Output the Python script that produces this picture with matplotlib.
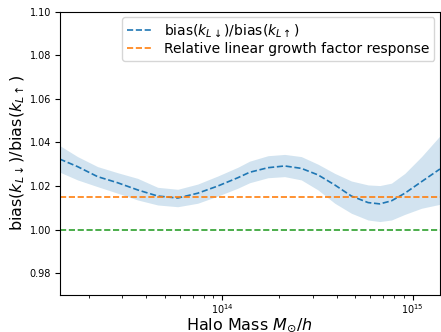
import matplotlib
matplotlib.use("Agg")
import matplotlib.pyplot as plt
import numpy as np

# Halo mass in units of 1e13 Msun/h
mass_1e13 = [1.402, 1.743, 2.221, 2.829, 3.605, 4.592, 5.851, 7.452, 9.493,
             12.09, 13.94, 17.39, 21.29, 26.03, 31.86, 38.99, 47.68, 58.34,
             67.23, 77.35, 90.99, 111.3, 139.0]
ratio_mean = [1.0324, 1.0289, 1.0243, 1.0215, 1.0182, 1.0154, 1.0145, 1.0167,
              1.0200, 1.0238, 1.0263, 1.0284, 1.0292, 1.0281, 1.0251, 1.0205,
              1.0154, 1.0124, 1.0118, 1.0132, 1.0167, 1.0220, 1.0278]
ratio_upper = [1.0386, 1.0335, 1.0289, 1.0261, 1.0235, 1.0194, 1.0185, 1.0209,
               1.0246, 1.0286, 1.0314, 1.0339, 1.0345, 1.0335, 1.0300, 1.0258,
               1.0223, 1.0205, 1.0202, 1.0213, 1.0258, 1.0335, 1.0430]
ratio_lower = [1.0264, 1.0228, 1.0197, 1.0167, 1.0136, 1.0113, 1.0105, 1.0121,
               1.0154, 1.0190, 1.0215, 1.0238, 1.0243, 1.0228, 1.0182, 1.0121,
               1.0075, 1.0044, 1.0037, 1.0044, 1.0070, 1.0098, 1.0116]
growth_response = 1.015
unity = 1.0
yticks = [0.98, 1.00, 1.02, 1.04, 1.06, 1.08, 1.10]

mass = np.array(mass_1e13) * 1e13

fig = plt.figure(figsize=(4.41, 3.32), dpi=100)
ax = fig.add_axes([0.135, 0.1114, 0.8626, 0.8536])

ax.fill_between(mass, ratio_lower, ratio_upper, color='C0', alpha=0.2, linewidth=0)
ax.plot(mass, ratio_mean, '--', color='C0', lw=1.2,
        label=r'bias($k_{L\downarrow}$)/bias($k_{L\uparrow}$)')
ax.axhline(growth_response, ls='--', color='C1', lw=1.2,
           label='Relative linear growth factor response')
ax.axhline(unity, ls='--', color='C2', lw=1.2)

ax.set_xscale('log')
ax.set_xlim(mass[0], mass[-1])
ax.set_ylim(0.97, 1.10)
ax.set_yticks(yticks)
ax.set_yticklabels([f'{v:.2f}' for v in yticks])
ax.tick_params(labelsize=7)
ax.tick_params(axis='x', which='both', pad=1.5)
ax.tick_params(axis='y', pad=2.5)
ax.set_xlabel(r'Halo Mass $M_{\odot}/h$', fontsize=11.5, labelpad=0)
ax.set_ylabel(r'bias($k_{L\downarrow}$)/bias($k_{L\uparrow}$)', fontsize=11.5, labelpad=2)
ax.legend(loc='upper right', fontsize=10, borderaxespad=0.4,
          labelspacing=0.25, handlelength=1.9, borderpad=0.35)

fig.savefig('out.png', dpi=100)
